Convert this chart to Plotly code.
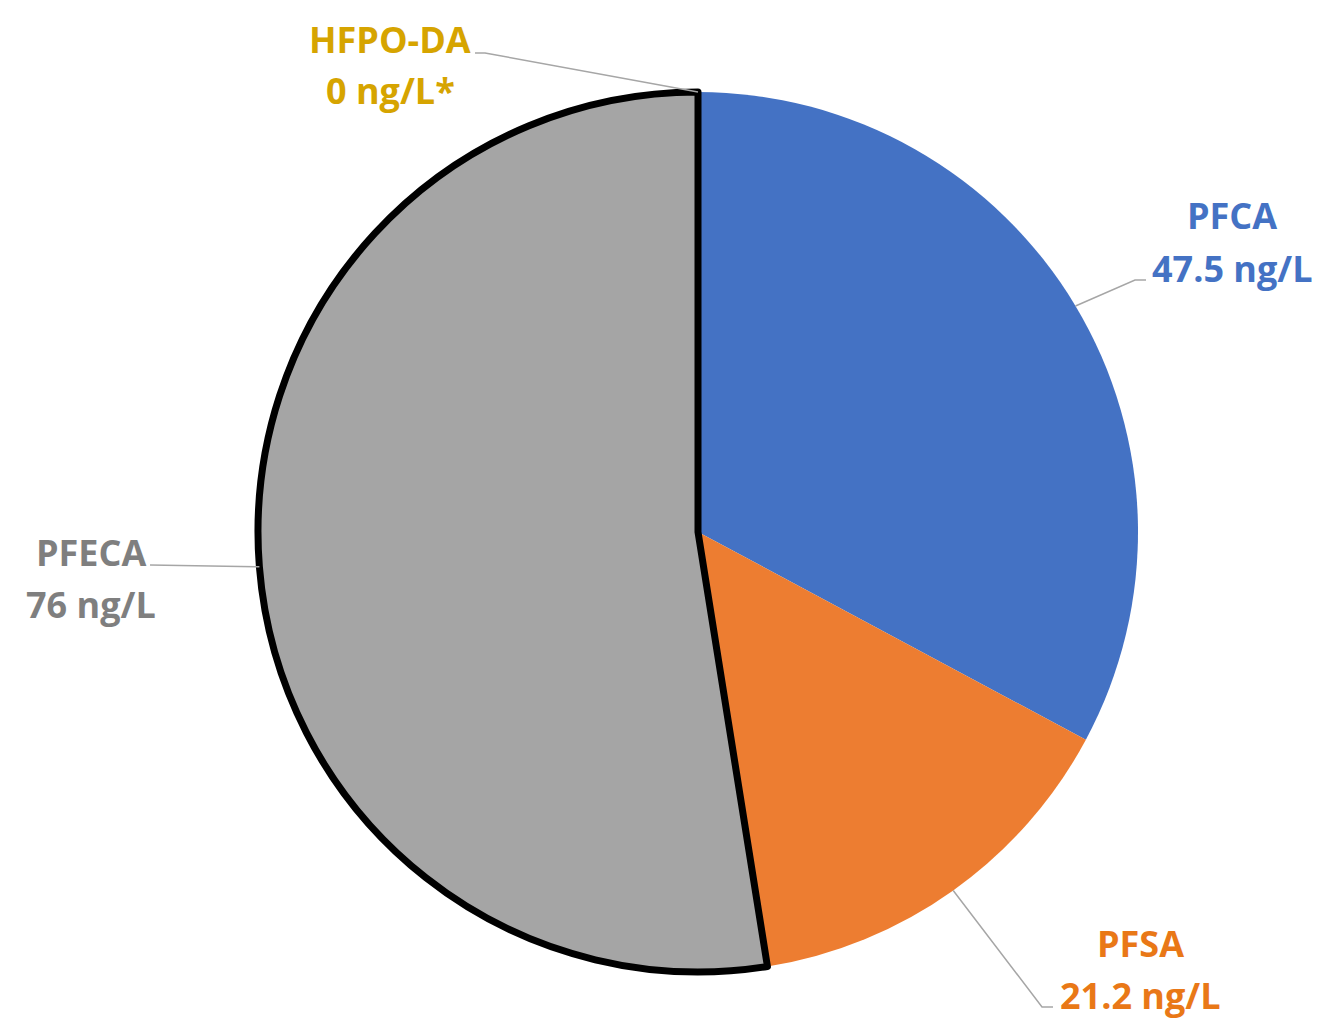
import math
import plotly.graph_objects as go

# Concentrations by PFAS class
categories = ["PFCA", "PFSA", "PFECA", "HFPO-DA"]
values = [47.5, 21.2, 76, 0]
value_labels = ["47.5 ng/L", "21.2 ng/L", "76 ng/L", "0 ng/L*"]

slice_colors = ["#4472C4", "#ED7D31", "#A5A5A5", "#FFC000"]
label_colors = ["#4472C4", "#E97817", "#7F7F7F", "#D6A400"]

W, H = 1339, 1025
CX, CY, R = 698, 532, 440


def px(x):
    return x / W


def py(y):
    return 1 - y / H


fig = go.Figure(
    go.Pie(
        labels=categories,
        values=values,
        sort=False,
        direction="clockwise",
        rotation=0,
        marker=dict(
            colors=slice_colors,
            line=dict(color=["#FFFFFF", "#FFFFFF", "#000000", "#FFFFFF"],
                      width=[0, 0, 7, 0]),
        ),
        textinfo="none",
        hoverinfo="label+value",
        showlegend=False,
        domain=dict(x=[px(CX - R), px(CX + R)], y=[py(CY + R), py(CY - R)]),
    )
)

# Label placement: leader-line elbow, line end and text centre (pixels)
placement = {
    "PFCA": dict(elbow=(1135, 280), end=(1146, 280), text=(1232, 216)),
    "PFSA": dict(elbow=(1042, 1007), end=(1053, 1007), text=(1140, 943)),
    "PFECA": dict(elbow=(150, 565), end=(150, 565), text=(91, 552)),
    "HFPO-DA": dict(elbow=(485, 53), end=(475, 53), text=(390, 39)),
}
LINE_GAP = 52

total = sum(values)
cum = 0.0
shapes, annotations = [], []
for name, val, vlab, col in zip(categories, values, value_labels, label_colors):
    start = cum
    cum += val
    mid = (start + cum) / 2 / total * 2 * math.pi
    if val == 0:
        mid = cum / total * 2 * math.pi
    rx = CX + R * math.sin(mid)
    ry = CY - R * math.cos(mid)
    p = placement[name]
    (ex, ey), (lx, ly) = p["elbow"], p["end"]
    shapes.append(dict(
        type="path", xref="paper", yref="paper",
        path=f"M {px(rx)},{py(ry)} L {px(ex)},{py(ey)} L {px(lx)},{py(ly)}",
        line=dict(color="#A6A6A6", width=1.5),
    ))
    tx, ty = p["text"]
    for i, txt in enumerate([name, vlab]):
        annotations.append(dict(
            x=px(tx), y=py(ty + i * LINE_GAP), xref="paper", yref="paper",
            text=txt, showarrow=False, xanchor="center", yanchor="middle",
            font=dict(family="Open Sans", size=36, color=col, weight="bold"),
        ))

fig.update_layout(
    width=W, height=H,
    margin=dict(l=0, r=0, t=0, b=0),
    paper_bgcolor="white", plot_bgcolor="white",
    shapes=shapes, annotations=annotations,
)

fig.write_html("out.html")
